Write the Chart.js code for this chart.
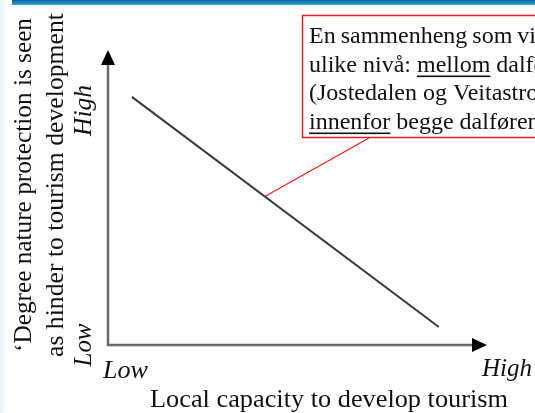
<!DOCTYPE html>
<html><head><meta charset="utf-8">
<script src="https://cdn.jsdelivr.net/npm/chart.js@4"></script>
<style>html,body{margin:0;padding:0;background:#fff;overflow:hidden}canvas{display:block}</style>
</head><body>
<canvas id="c" width="535" height="413"></canvas>
<script>
// ---- data ----
const capacity = [0.63, 8.73];          // local capacity to develop tourism (x)
const hinder = [8.41, 0.61];            // degree nature protection seen as hinder (y)
const xTickValues = [0, 10];
const xTickLabels = ['Low', 'High'];
const yTickValues = [0, 7.95];
const yTickLabels = ['Low', 'High'];
const xTitle = 'Local capacity to develop tourism';
const yTitle = ['\u2018Degree nature protection is seen', 'as hinder to tourism development'];
const noteLines = [
  [['En sammenheng som vi finner på', false]],
  [['ulike nivå: ', false], ['mellom', true], [' dalførene', false]],
  [['(Jostedalen og Veitastrond) og', false]],
  [['innenfor', true], [' begge dalførene', false]]
];
const noteAnchorT = 0.433; // fraction along the line where the note points

const SERIF = "'Liberation Serif','Times New Roman',serif";

function fitText(ctx, text, x, y, len) {
  const w = ctx.measureText(text).width;
  ctx.save();
  ctx.translate(x, y);
  ctx.scale(len / w, 1);
  ctx.textAlign = 'left';
  ctx.fillText(text, 0, 0);
  ctx.restore();
}

const deco = {
  id: 'deco',
  beforeDraw(chart) {
    const ctx = chart.ctx;
    ctx.save();
    const g = ctx.createLinearGradient(0, 0, 10, 0);
    g.addColorStop(0, '#e2f4fb'); g.addColorStop(1, 'rgba(255,255,255,0)');
    ctx.fillStyle = g; ctx.fillRect(0, 0, 10, 413);
    const g2 = ctx.createLinearGradient(0, 0, 0, 5);
    g2.addColorStop(0, '#0a5f9e'); g2.addColorStop(1, '#3aa6d6');
    ctx.fillStyle = g2; ctx.fillRect(12, 0, 523, 5);
    ctx.restore();
  },
  afterDraw(chart) {
    const ctx = chart.ctx;
    const xs = chart.scales.x, ys = chart.scales.y;
    const x0 = xs.getPixelForValue(xs.min), x1 = xs.getPixelForValue(xs.max);
    const y0 = ys.getPixelForValue(ys.min), y1 = ys.getPixelForValue(ys.max);
    ctx.save();
    // axes
    ctx.strokeStyle = '#6a6a6a'; ctx.lineWidth = 2.5;
    ctx.beginPath();
    ctx.moveTo(x0, y1 + 12); ctx.lineTo(x0, y0); ctx.lineTo(x1 - 12, y0);
    ctx.stroke();
    ctx.fillStyle = '#000';
    ctx.beginPath();
    ctx.moveTo(x0, y1); ctx.lineTo(x0 - 7, y1 + 15); ctx.lineTo(x0 + 7, y1 + 15); ctx.closePath(); ctx.fill();
    ctx.beginPath();
    ctx.moveTo(x1, y0); ctx.lineTo(x1 - 15, y0 - 7); ctx.lineTo(x1 - 15, y0 + 7); ctx.closePath(); ctx.fill();

    // tick labels
    ctx.font = 'italic 25px ' + SERIF;
    ctx.fillStyle = '#111';
    ctx.textBaseline = 'alphabetic';
    fitText(ctx, xTickLabels[0], xs.getPixelForValue(xTickValues[0]) - 5, y0 + 33, 45);
    fitText(ctx, xTickLabels[1], xs.getPixelForValue(xTickValues[1]) - 5, y0 + 31, 50);
    const yLens = [43, 51];
    yTickValues.forEach((v, i) => {
      ctx.save();
      ctx.translate(x0 - 17, ys.getPixelForValue(v) + yLens[i] / 2);
      ctx.rotate(-Math.PI / 2);
      fitText(ctx, yTickLabels[i], 0, 0, yLens[i]);
      ctx.restore();
    });

    // axis titles
    ctx.font = '25px ' + SERIF;
    fitText(ctx, xTitle, 150, 407, 358);
    ctx.save();
    ctx.rotate(-Math.PI / 2);
    fitText(ctx, yTitle[0], -352, 31, 334);
    fitText(ctx, yTitle[1], -357, 63, 344);
    ctx.restore();

    // note leader
    const ax = capacity[0] + noteAnchorT * (capacity[1] - capacity[0]);
    const ay = hinder[0] + noteAnchorT * (hinder[1] - hinder[0]);
    ctx.strokeStyle = '#ee1c1c'; ctx.lineWidth = 1.2;
    ctx.beginPath();
    ctx.moveTo(369, 138);
    ctx.lineTo(xs.getPixelForValue(ax), ys.getPixelForValue(ay));
    ctx.stroke();
    // note box
    ctx.fillStyle = '#fff';
    ctx.fillRect(302, 15, 260, 122);
    ctx.strokeStyle = '#ee1c1c'; ctx.lineWidth = 1.5;
    ctx.strokeRect(302.5, 15.5, 260, 122);
    ctx.font = '24px ' + SERIF;
    ctx.fillStyle = '#111';
    ctx.textAlign = 'left'; ctx.textBaseline = 'alphabetic';
    // line 1: justified so that "vi" ends at the right edge
    const words1 = noteLines[0][0][0].split(' ');
    const visible = words1.slice(0, 4);
    const natW = visible.reduce((s, w) => s + ctx.measureText(w).width, 0);
    const gap = Math.max(5, (533 - 309 - natW) / 3);
    let wx = 309;
    words1.forEach((wd) => {
      ctx.fillText(wd, wx, 43);
      wx += ctx.measureText(wd).width + gap;
    });
    noteLines.slice(1).forEach((parts, j) => {
      let x = 309;
      const y = 43 + (j + 1) * 28.5;
      parts.forEach(([t, u]) => {
        ctx.fillText(t, x, y);
        const w = ctx.measureText(t).width;
        if (u) ctx.fillRect(x, y + 4, w, 1.6);
        x += w;
      });
    });
    ctx.restore();
  }
};

new Chart(document.getElementById('c'), {
  type: 'scatter',
  data: {
    datasets: [{
      data: capacity.map((x, i) => ({ x, y: hinder[i] })),
      showLine: true,
      borderColor: '#3a3a3a',
      borderWidth: 2,
      pointRadius: 0,
      tension: 0
    }]
  },
  options: {
    responsive: false,
    animation: false,
    layout: { padding: { left: 108, right: 48, top: 50, bottom: 68 } },
    plugins: { legend: { display: false }, tooltip: { enabled: false } },
    scales: {
      x: { type: 'linear', min: 0, max: 10, display: false },
      y: { type: 'linear', min: 0, max: 10, display: false }
    }
  },
  plugins: [deco]
});
</script>
</body></html>
